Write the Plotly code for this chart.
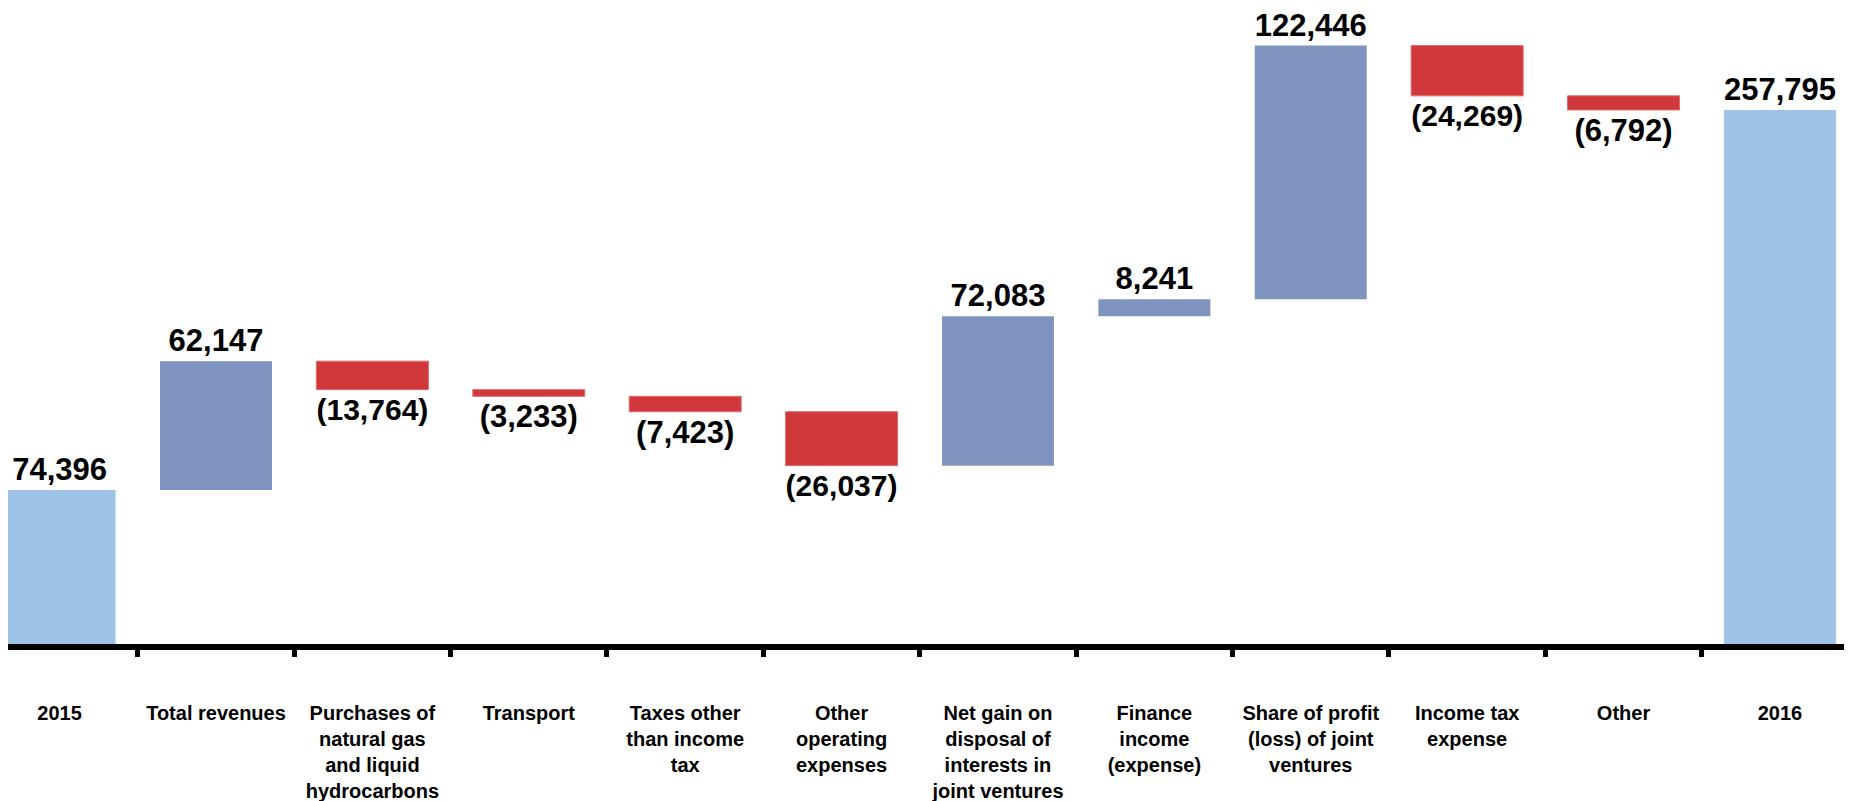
import plotly.graph_objects as go

categories = [
    "2015", "Total revenues", "Purchases of<br>natural gas<br>and liquid<br>hydrocarbons",
    "Transport", "Taxes other<br>than income<br>tax", "Other<br>operating<br>expenses",
    "Net gain on<br>disposal of<br>interests in<br>joint ventures", "Finance<br>income<br>(expense)",
    "Share of profit<br>(loss) of joint<br>ventures", "Income tax<br>expense", "Other", "2016",
]
changes = [74396, 62147, -13764, -3233, -7423, -26037, 72083, 8241, 122446, -24269, -6792, 0]
measures = ["absolute"] + ["relative"] * 10 + ["total"]
total_2016 = 257795


def fmt(v):
    return "({:,})".format(-v) if v < 0 else "{:,}".format(v)


labels = [fmt(v) for v in changes[:-1]] + [fmt(total_2016)]
font_name = "Liberation Sans, Arial, sans-serif"

fig = go.Figure(go.Waterfall(
    x=["<b>%s</b>" % c for c in categories],
    y=changes,
    measure=measures,
    text=["<b>%s</b>" % s for s in labels],
    texttemplate="%{text}",
    textposition="outside",
    textfont=dict(family=font_name, size=31, color="black"),
    cliponaxis=False,
    connector=dict(visible=False),
    increasing=dict(marker=dict(color="#7F93BF")),
    decreasing=dict(marker=dict(color="#D0373B", line=dict(color="#E06A6C", width=1))),
    totals=dict(marker=dict(color="#9DC3E6")),
))

fig.update_layout(
    width=1852,
    height=801,
    margin=dict(l=0, r=0, t=0, b=165),
    plot_bgcolor="white",
    paper_bgcolor="white",
    waterfallgap=0.284,
    showlegend=False,
    font=dict(family=font_name, color="black"),
    xaxis=dict(
        type="category",
        tickfont=dict(size=20, color="black"),
        tickson="boundaries",
        ticks="outside",
        ticklen=7,
        tickwidth=5,
        tickcolor="black",
        ticklabelstandoff=46,
        showline=True,
        linewidth=6,
        linecolor="black",
        showgrid=False,
        zeroline=False,
        range=[-0.33, 11.512],
    ),
    yaxis=dict(visible=False, range=[0, 307000], showgrid=False),
)

fig.write_html("out.html")
